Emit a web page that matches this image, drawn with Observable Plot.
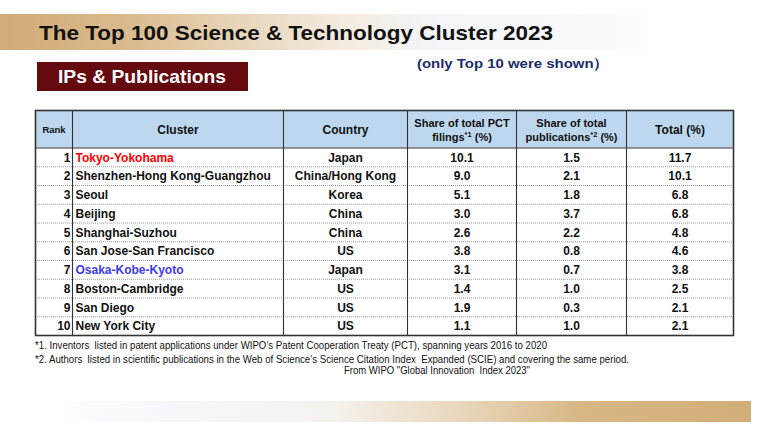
<!DOCTYPE html>
<html>
<head>
<meta charset="utf-8">
<script src="https://cdn.jsdelivr.net/npm/d3@7"></script>
<script src="https://cdn.jsdelivr.net/npm/@observablehq/plot@0.6"></script>
<style>
  html, body { margin: 0; padding: 0; background: #fff; }
  #page { position: relative; width: 768px; height: 432px; overflow: hidden; background: #fff; font-family: "Liberation Sans", Arial, sans-serif; }
  .abs { position: absolute; white-space: nowrap; }
  #band-top { left: 0; top: 14px; width: 680px; height: 36px;
    background: linear-gradient(90deg, #d2ab77 0%, #d9b98c 18%, #e8d5ba 35%, #f3ebdf 50%, #f4f6f9 65%, #f7f9fc 85%, rgba(255,255,255,0) 100%); }
  #title { left: 39px; top: 14px; height: 36px; line-height: 37px; font-weight: bold; font-size: 21px; color: #111; transform-origin: left center; }
  #box { left: 37px; top: 62px; width: 211px; height: 29px; background: #650a0e; }
  #boxtext { left: 58px; top: 62px; height: 29px; line-height: 30px; font-weight: bold; font-size: 19px; color: #fff; transform-origin: left center; }
  #note { left: 417px; top: 55px; font-weight: bold; font-size: 13.5px; color: #1c2d6b; transform-origin: left center; }
  #table { left: 34px; top: 109px; }
  .foot { font-family: "Liberation Sans Narrow", "Liberation Sans", Arial, sans-serif; font-size: 10.5px; color: #111; transform-origin: left center; }
  #band-bottom { left: 35px; top: 401px; width: 716px; height: 21px;
    background: linear-gradient(90deg, rgba(255,255,255,0) 0%, #f5f8fc 18%, #f5f2ec 42%, #e8d6bb 60%, #d8b785 76%, #d3ae79 100%); }
</style>
</head>
<body>
<div id="page">
  <div id="band-top" class="abs"></div>
  <div id="title" class="abs">The Top 100 Science &amp; Technology Cluster 2023</div>
  <div id="box" class="abs"></div>
  <div id="boxtext" class="abs">IPs &amp; Publications</div>
  <div id="note" class="abs">(only Top 10 were shown）</div>
  <div id="table" class="abs"></div>
  <div id="f1" class="abs foot" style="left:35px; top:339px;">*1. Inventors&nbsp; listed in patent applications under WIPO’s Patent Cooperation Treaty (PCT), spanning years 2016 to 2020</div>
  <div id="f2" class="abs foot" style="left:35px; top:353px;">*2. Authors&nbsp; listed in scientific publications in the Web of Science’s Science Citation Index&nbsp; Expanded (SCIE) and covering the same period.</div>
  <div id="f3" class="abs foot" style="left:344px; top:364px;">From WIPO "Global Innovation&nbsp; Index 2023"</div>
  <div id="band-bottom" class="abs"></div>
</div>
<script>
// ---- data ----
const ranks = [1, 2, 3, 4, 5, 6, 7, 8, 9, 10];
const clusters = ["Tokyo-Yokohama", "Shenzhen-Hong Kong-Guangzhou", "Seoul", "Beijing", "Shanghai-Suzhou",
  "San Jose-San Francisco", "Osaka-Kobe-Kyoto", "Boston-Cambridge", "San Diego", "New York City"];
const countries = ["Japan", "China/Hong Kong", "Korea", "China", "China", "US", "Japan", "US", "US", "US"];
const pctShare = [10.1, 9.0, 5.1, 3.0, 2.6, 3.8, 3.1, 1.4, 1.9, 1.1];
const pubShare = [1.5, 2.1, 1.8, 3.7, 2.2, 0.8, 0.7, 1.0, 0.3, 1.0];
const totalShare = [11.7, 10.1, 6.8, 6.8, 4.8, 4.6, 3.8, 2.5, 2.1, 2.1];
const headers = ["Rank", "Cluster", "Country", "Share of total PCT\nfilings*1 (%)", "Share of total\npublications*2 (%)", "Total (%)"];

// ---- layout & style (not data) ----
const colEdges = [0, 37, 248, 372, 481, 591, 698];   // table column boundaries in table px
const mid = i => (colEdges[i] + colEdges[i + 1]) / 2;
const clusterColor = {"Tokyo-Yokohama": "#ff0000", "Osaka-Kobe-Kyoto": "#3a3af0"};
const headerSize = [9.5, 12, 12, 11, 11, 12];

const rows = ranks.map((r, i) => ({
  rank: r, row: i, cluster: clusters[i], country: countries[i],
  pct: pctShare[i], pub: pubShare[i], total: totalShare[i]
}));
const head = headers.map((h, i) => ({label: h, col: i}));

const fmt = v => v.toFixed(1);
const bodyText = {fontSize: 12, fontWeight: "bold", fill: "#111", y: d => d.row + 0.52};

const chart = Plot.plot({
  width: 700, height: 228,
  marginLeft: 1, marginRight: 1, marginTop: 1, marginBottom: 2,
  x: {domain: [0, 698], axis: null},
  y: {domain: [-2, 10], axis: null, reverse: true},
  style: {fontFamily: "'Liberation Sans', Arial, sans-serif", background: "#fff", overflow: "visible"},
  marks: [
    Plot.rect([0], {x1: 0, x2: 698, y1: -2, y2: 0, fill: "#bdd7ee"}),
    Plot.ruleY(d3.range(1, 10), {x1: 0, x2: 698, stroke: "#9a9a9a", strokeWidth: 1, strokeDasharray: "1,1"}),
    Plot.ruleY([0], {x1: 0, x2: 698, stroke: "#333", strokeWidth: 1.2}),
    Plot.ruleX(colEdges.slice(1, -1), {y1: -2, y2: 10, stroke: "#333", strokeWidth: 1.1}),
    Plot.frame({stroke: "#333", strokeWidth: 1.6}),
    // header
    Plot.text(head, {x: d => mid(d.col), y: -1, text: "label", fontWeight: "bold", fill: "#111",
      fontSize: d => headerSize[d.col], lineHeight: 1.25, className: "hdr"}),
    // body
    Plot.text(rows, {...bodyText, x: colEdges[1] - 2, text: "rank", textAnchor: "end"}),
    Plot.text(rows, {...bodyText, x: colEdges[1] + 3, text: "cluster", textAnchor: "start",
      fill: d => clusterColor[d.cluster] || "#111"}),
    Plot.text(rows, {...bodyText, x: mid(2), text: "country"}),
    Plot.text(rows, {...bodyText, x: mid(3), text: d => fmt(d.pct)}),
    Plot.text(rows, {...bodyText, x: mid(4), text: d => fmt(d.pub)}),
    Plot.text(rows, {...bodyText, x: mid(5), text: d => fmt(d.total)})
  ]
});
document.getElementById("table").appendChild(chart);

// superscript footnote markers in the header
chart.querySelectorAll(".hdr text, .hdr tspan").forEach(el => {
  if (el.childElementCount === 0 && /\*\d/.test(el.textContent)) {
    const t = el.textContent;
    const m = t.match(/^(.*?)(\*\d)(.*)$/);
    el.textContent = "";
    const ns = "http://www.w3.org/2000/svg";
    el.appendChild(document.createTextNode(m[1]));
    const sup = document.createElementNS(ns, "tspan");
    sup.setAttribute("dy", "-4"); sup.setAttribute("font-size", "7.5"); sup.textContent = m[2];
    el.appendChild(sup);
    const rest = document.createElementNS(ns, "tspan");
    rest.setAttribute("dy", "4"); rest.textContent = m[3];
    el.appendChild(rest);
  }
});

// fit a few text lines to the widths observed in the reference
function fit(id, w) {
  const el = document.getElementById(id);
  const cw = el.getBoundingClientRect().width;
  if (cw > 0) el.style.transform = `scaleX(${w / cw})`;
}
fit("title", 514);
fit("boxtext", 168);
fit("note", 192);
fit("f1", 512);
fit("f2", 594);
fit("f3", 186);
</script>
</body>
</html>
